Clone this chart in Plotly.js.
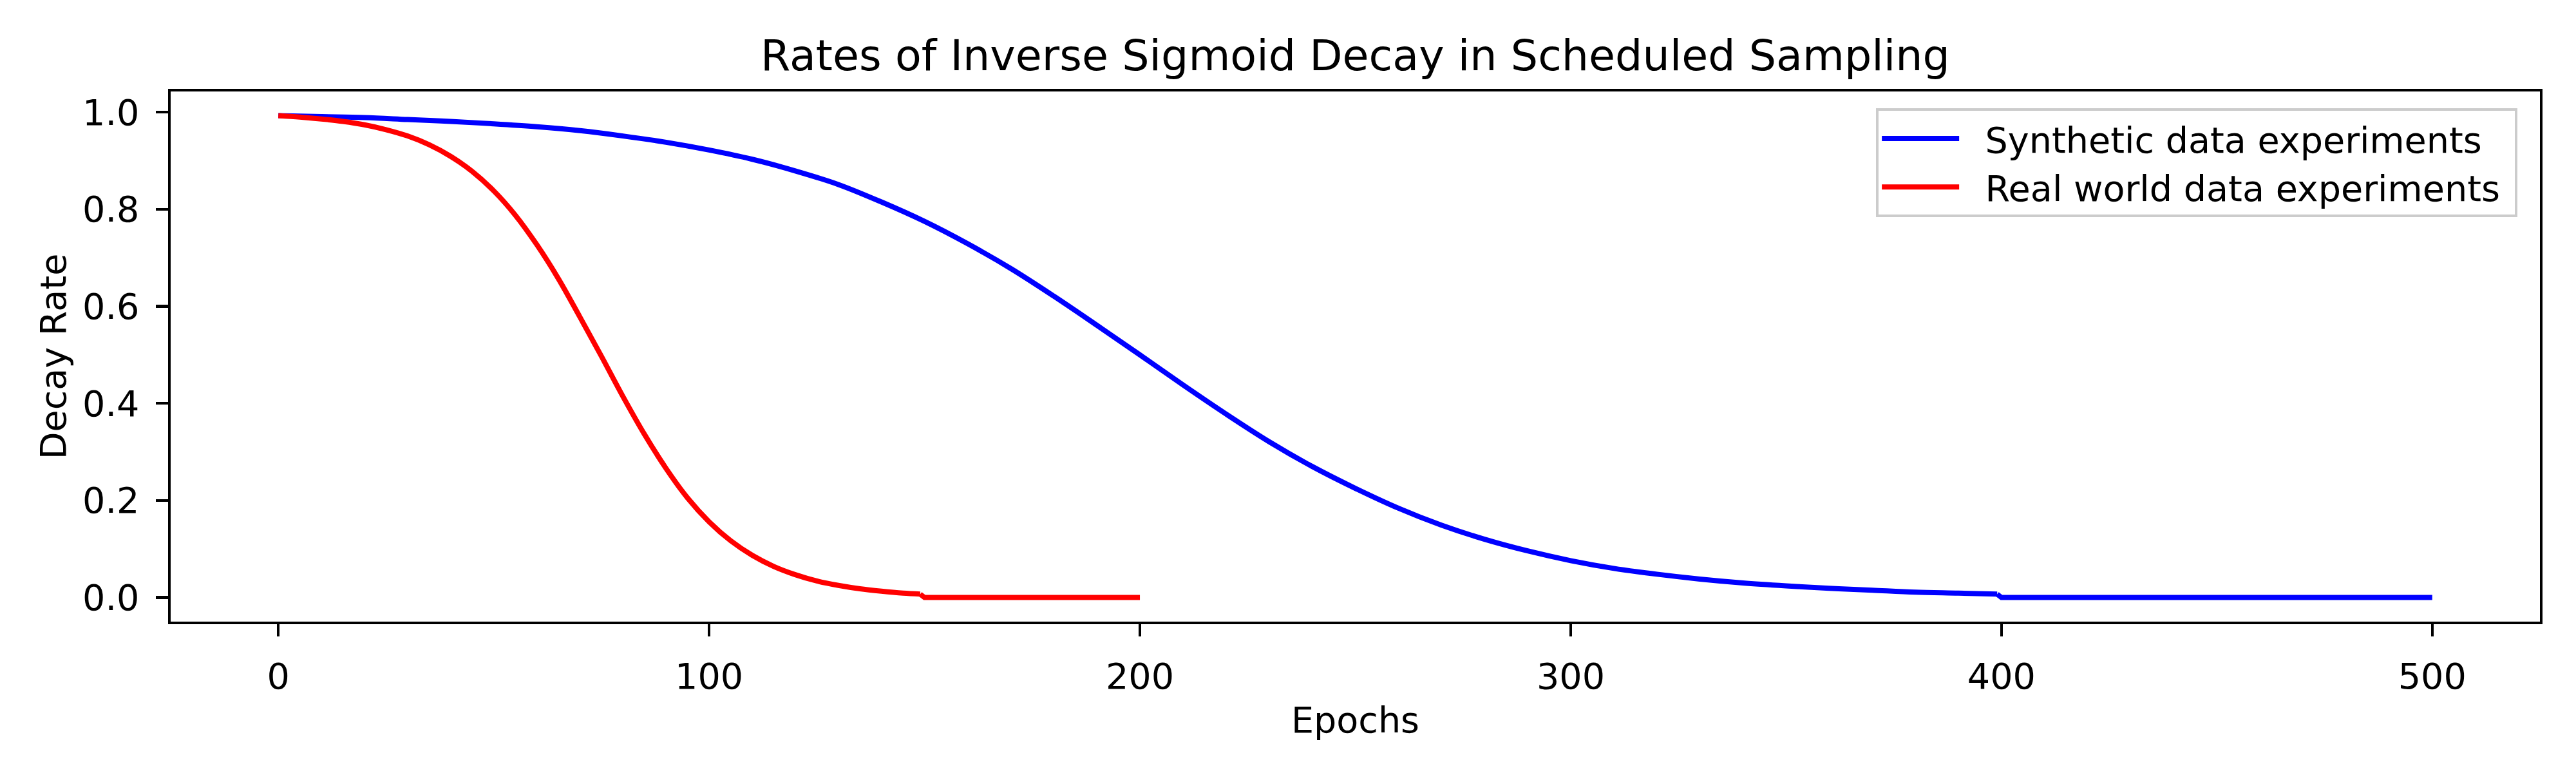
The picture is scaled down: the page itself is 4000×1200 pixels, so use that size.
<!DOCTYPE html>
<html>
<head>
<meta charset="utf-8">
<script src="https://cdn.plot.ly/plotly-3.0.1.min.js"></script>
<style>
  html, body { margin: 0; padding: 0; background: #ffffff; }
  #chart { width: 4000px; height: 1200px; }
</style>
</head>
<body>
<div id="chart"></div>
<script>
// values
const syntheticEpochs = [0, 10, 20, 30, 40, 50, 60, 70, 80, 90, 100, 110, 120, 130, 140, 150,
    160, 170, 180, 190, 200, 210, 220, 230, 240, 250, 260, 270, 280, 290, 300,
    310, 320, 330, 340, 350, 360, 370, 380, 390, 399, 400, 450, 500];
const syntheticRate = [0.993, 0.991, 0.989, 0.985, 0.981, 0.976, 0.970, 0.962, 0.951, 0.938, 0.922, 0.903, 0.879, 0.851, 0.815, 0.775,
    0.729, 0.678, 0.621, 0.561, 0.500, 0.438, 0.378, 0.321, 0.270, 0.225, 0.184, 0.149, 0.120, 0.096, 0.076,
    0.060, 0.048, 0.038, 0.030, 0.024, 0.019, 0.015, 0.011, 0.009, 0.007, 0.0, 0.0, 0.0];

const realEpochs = [0, 5, 10, 15, 20, 25, 30, 35, 40, 45, 50, 55, 60, 65, 70, 75,
    80, 85, 90, 95, 100, 105, 110, 115, 120, 125, 130, 135, 140, 145, 149, 150, 175, 200];
const realRate = [0.993, 0.990, 0.986, 0.981, 0.974, 0.964, 0.951, 0.933, 0.909, 0.878, 0.838, 0.788, 0.727, 0.657, 0.578, 0.497,
    0.414, 0.336, 0.266, 0.205, 0.156, 0.117, 0.087, 0.064, 0.047, 0.034, 0.025, 0.018, 0.013, 0.009, 0.007, 0.0, 0.0, 0.0];

const xTicks = [0, 100, 200, 300, 400, 500];
const yTicks = [0.0, 0.2, 0.4, 0.6, 0.8, 1.0];

const FONT = 'DejaVu Sans, sans-serif';
const NB = '\u00a0';

// smooth part up to the drop, straight part from the drop on
function seriesTraces(xs, ys, name, color) {
    const cut = ys.indexOf(0);
    const group = name;
    return [
        {
            x: xs.slice(0, cut),
            y: ys.slice(0, cut),
            type: 'scatter',
            mode: 'lines',
            name: NB + NB + name + NB,
            legendgroup: group,
            line: { color: color, width: 8, shape: 'spline', smoothing: 1 }
        },
        {
            x: xs.slice(cut - 1),
            y: ys.slice(cut - 1),
            type: 'scatter',
            mode: 'lines',
            legendgroup: group,
            showlegend: false,
            line: { color: color, width: 8, shape: 'linear' }
        }
    ];
}

const traces = [].concat(
    seriesTraces(syntheticEpochs, syntheticRate, 'Synthetic data experiments', '#0000ff'),
    seriesTraces(realEpochs, realRate, 'Real world data experiments', '#ff0000')
);

const axisCommon = {
    showgrid: false,
    zeroline: false,
    showline: true,
    mirror: true,
    linecolor: '#000000',
    linewidth: 4.4,
    ticks: 'outside',
    ticklen: 19,
    tickwidth: 4.4,
    tickcolor: '#000000',
    tickfont: { family: FONT, size: 55.6, color: '#000000' },
    automargin: false
};

const layout = {
    width: 4000,
    height: 1200,
    paper_bgcolor: '#ffffff',
    plot_bgcolor: '#ffffff',
    font: { family: FONT, color: '#000000', size: 55.6 },
    margin: { l: 265, r: 56, t: 142, b: 235 },
    title: {
        text: 'Rates of Inverse Sigmoid Decay in Scheduled Sampling',
        font: { family: FONT, size: 66.7, color: '#000000' },
        xref: 'paper',
        x: 0.5,
        xanchor: 'center',
        yref: 'container',
        y: 1 - 86 / 1200,
        yanchor: 'middle'
    },
    xaxis: Object.assign({}, axisCommon, {
        range: [-25, 525],
        tickvals: xTicks,
        ticktext: xTicks.map(String),
        ticklabelstandoff: 14,
        title: { text: 'Epochs', font: { family: FONT, size: 55.6, color: '#000000' }, standoff: 18 }
    }),
    yaxis: Object.assign({}, axisCommon, {
        range: [-0.0497, 1.0427],
        tickvals: yTicks,
        ticktext: yTicks.map(v => v.toFixed(1)),
        ticklabelstandoff: 14,
        title: { text: 'Decay Rate', font: { family: FONT, size: 55.6, color: '#000000' }, standoff: 9 }
    }),
    showlegend: true,
    legend: {
        x: 0.7198,
        y: 0.968,
        xanchor: 'left',
        yanchor: 'top',
        bgcolor: 'rgba(255,255,255,0.8)',
        bordercolor: '#cccccc',
        borderwidth: 4,
        font: { family: FONT, size: 55.6, color: '#000000' },
        itemwidth: 120,
        tracegroupgap: 0
    }
};

Plotly.newPlot('chart', traces, layout, { displayModeBar: false, staticPlot: true });
</script>
</body>
</html>
